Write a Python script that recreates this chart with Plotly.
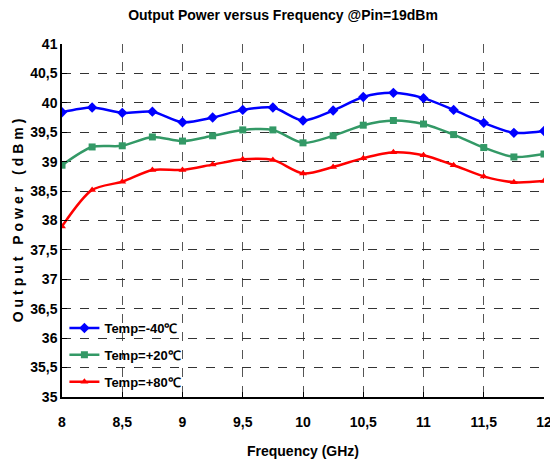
import plotly.graph_objects as go

freq = [8, 8.25, 8.5, 8.75, 9, 9.25, 9.5, 9.75, 10, 10.25, 10.5, 10.75, 11, 11.25, 11.5, 11.75, 12]
p_m40 = [39.84, 39.92, 39.83, 39.85, 39.67, 39.75, 39.88, 39.92, 39.70, 39.87, 40.10, 40.17, 40.08, 39.88, 39.66, 39.49, 39.52]
p_p20 = [38.94, 39.25, 39.27, 39.42, 39.35, 39.44, 39.54, 39.54, 39.32, 39.44, 39.62, 39.70, 39.64, 39.46, 39.24, 39.08, 39.13]
p_p80 = [37.90, 38.52, 38.66, 38.86, 38.86, 38.95, 39.04, 39.03, 38.80, 38.91, 39.06, 39.16, 39.11, 38.94, 38.75, 38.65, 38.67]
names = ["Temp=-40\u2103", "Temp=+20\u2103", "Temp=+80\u2103"]
colors = ["#0000FF", "#339966", "#FF0000"]
symbols = ["diamond", "square", "triangle-up"]
x_ticks = [8, 8.5, 9, 9.5, 10, 10.5, 11, 11.5, 12]
y_ticks = [35, 35.5, 36, 36.5, 37, 37.5, 38, 38.5, 39, 39.5, 40, 40.5, 41]

FONT = "Liberation Sans Narrow, Arial Narrow, Liberation Sans, Arial"
fig = go.Figure()
for i, (name, ys) in enumerate(zip(names, [p_m40, p_p20, p_p80])):
    fig.add_trace(go.Scatter(
        x=freq, y=ys, name="<b>" + name + "</b>", mode="lines+markers",
        line=dict(color=colors[i], width=2.5, shape="spline", smoothing=0.8),
        marker=dict(symbol=symbols[i], size=8 if i == 0 else 7, color=colors[i]),
        legendgroup=str(i),
    ))

def spaced(s):
    return "\u2009\u200a".join(list(s))

def fmt(v):
    s = ("%g" % v).replace(".", ",")
    return "<b>" + s + "</b>"

fig.update_layout(
    width=550, height=451,
    margin=dict(l=54, r=14, t=36, b=62),
    paper_bgcolor="white", plot_bgcolor="white",
    font=dict(family=FONT, size=13, color="black"),
    title=dict(text="<b>Output Power versus Frequency @Pin=19dBm</b>",
               x=0.5, xanchor="center", y=1 - 7 / 451, yanchor="middle",
               font=dict(family="Liberation Sans, Arial", size=14, color="black")),
    showlegend=True,
    legend=dict(x=0.005, y=0.238, xanchor="left", yanchor="top",
                bgcolor="rgba(255,255,255,0)", borderwidth=0,
                font=dict(family=FONT, size=13, color="black"),
                tracegroupgap=7, itemwidth=30),
    xaxis=dict(range=[8, 12], tickvals=x_ticks, ticktext=[fmt(v) for v in x_ticks],
               showgrid=True, gridcolor="#555555", griddash="dash", gridwidth=1,
               showline=True, linecolor="black", linewidth=1.5,
               ticks="inside", ticklen=5, tickcolor="black",
               zeroline=False, mirror=False, automargin=False,
               ticklabelstandoff=11,
               tickfont=dict(family=FONT, size=14, color="black"),
               title=dict(text="<b>Frequency (GHz)</b>", standoff=23,
                          font=dict(family="Liberation Sans, Arial", size=14, color="black"))),
    yaxis=dict(range=[35, 41], tickvals=y_ticks, ticktext=[fmt(v) for v in y_ticks],
               showgrid=True, gridcolor="#333333", griddash="dash", gridwidth=1,
               showline=True, linecolor="black", linewidth=1.5,
               ticks="inside", ticklen=5, tickcolor="black",
               zeroline=False, automargin=False,
               tickfont=dict(family=FONT, size=14, color="black"),
               title=dict(text="<b>" + spaced("Output Power (dBm)") + "</b>", standoff=3,
                          font=dict(family="Liberation Sans, Arial", size=14, color="black"))),
)
fig.write_html("out.html")
